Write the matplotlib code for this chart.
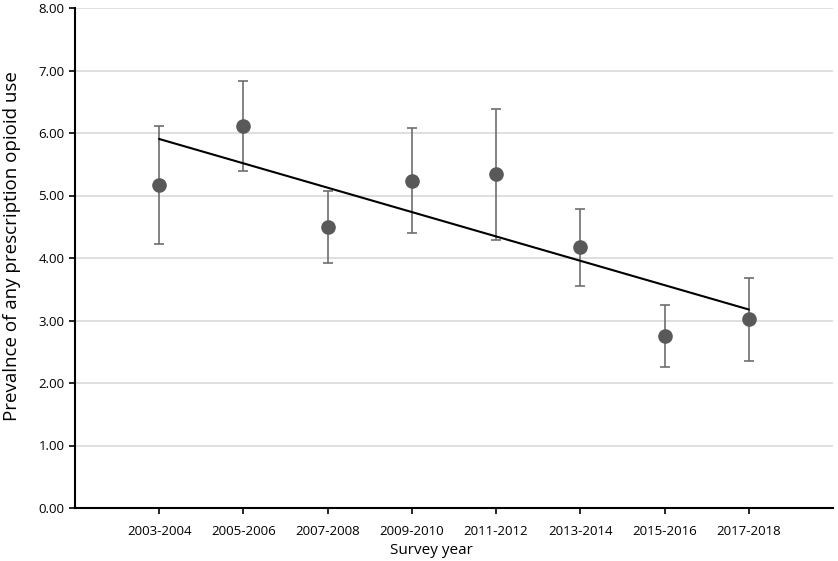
import numpy as np
import matplotlib.pyplot as plt

plt.rcParams['font.family'] = ['Open Sans', 'DejaVu Sans']

survey_years = ["2003-2004", "2005-2006", "2007-2008", "2009-2010",
                "2011-2012", "2013-2014", "2015-2016", "2017-2018"]
prevalence = [5.17, 6.12, 4.50, 5.24, 5.34, 4.17, 2.76, 3.02]
ci_upper = [6.11, 6.84, 5.08, 6.08, 6.39, 4.78, 3.25, 3.68]
ci_lower = [4.22, 5.40, 3.92, 4.40, 4.29, 3.55, 2.26, 2.36]

x = np.arange(1, len(survey_years) + 1)
y = np.array(prevalence)
yerr = [y - np.array(ci_lower), np.array(ci_upper) - y]

fig = plt.figure(figsize=(8.38, 5.61), dpi=100)
ax = fig.add_axes([75 / 838, 1 - 508 / 561, (833 - 75) / 838, 500 / 561])

ax.set_axisbelow(True)
ax.yaxis.grid(True, color="#d9d9d9", lw=1.2)

ax.errorbar(x, y, yerr=yerr, fmt="o", color="#595959", ecolor="#6e6e6e",
            elinewidth=1.2, capsize=3.5, capthick=1.2, markersize=9.5, zorder=3)

# linear trend line
slope, intercept = np.polyfit(x, y, 1)
ax.plot([x[0], x[-1]], [slope * x[0] + intercept, slope * x[-1] + intercept],
        color="black", lw=1.5, zorder=4)

ax.set_xlim(0, 9)
ax.set_ylim(0, 8)
ax.set_xticks(x)
ax.set_xticklabels(survey_years, fontsize=9.5)
ax.set_yticks(np.arange(0, 9, 1))
ax.set_yticklabels([f"{v:.2f}" for v in np.arange(0, 9, 1)], fontsize=9.5)
ax.tick_params(axis="both", direction="out", length=4, width=1.2, color="black")
ax.tick_params(axis="x", pad=8)

for s in ["top", "right"]:
    ax.spines[s].set_visible(False)
for s in ["left", "bottom"]:
    ax.spines[s].set_linewidth(1.5)

ax.set_xlabel("Survey year", fontsize=11)
ax.set_ylabel("Prevalnce of any prescription opioid use", fontsize=13.5)
ax.xaxis.set_label_coords(0.47, -0.071)
ax.yaxis.set_label_coords(-0.071, 0.524)

fig.savefig("out.png", dpi=100)
